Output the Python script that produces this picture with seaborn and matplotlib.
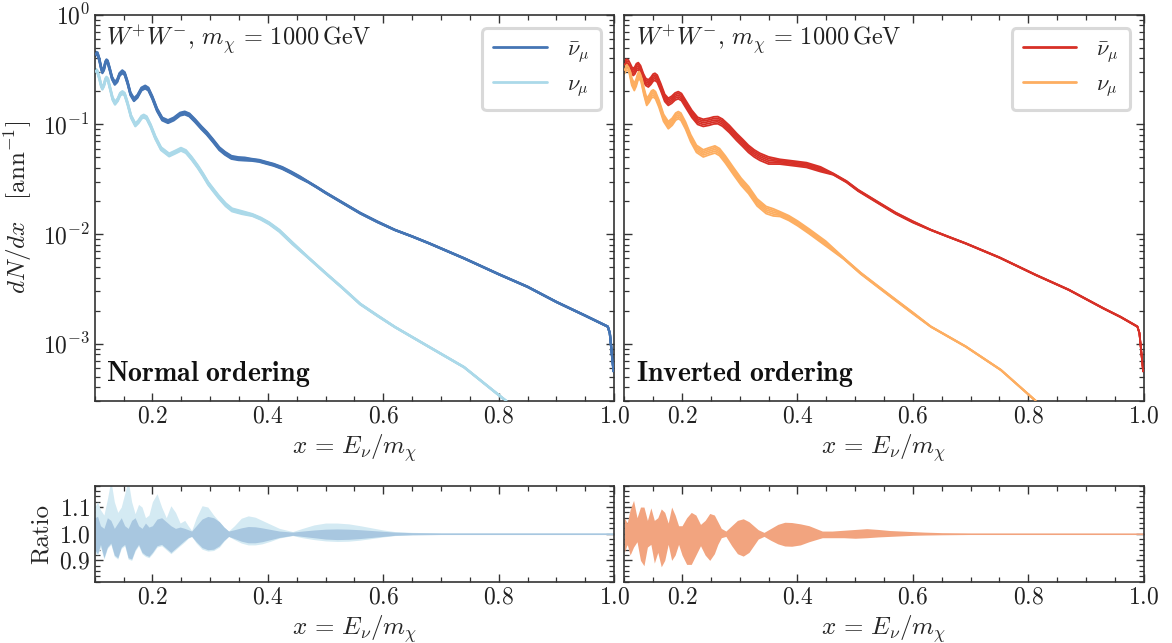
import numpy as np
import pandas as pd
import matplotlib
matplotlib.use("Agg")
import matplotlib.pyplot as plt
from matplotlib.ticker import MultipleLocator, LogLocator, NullFormatter, FixedLocator
import seaborn as sns

# ---------------- data ----------------
# Normal ordering, anti-neutrino (nubar_mu)
x_nb_no = [0.100, 0.1025, 0.105, 0.108, 0.111, 0.1133, 0.116, 0.1185, 0.1204, 0.1225, 0.126, 0.130,
           0.1348, 0.139, 0.143, 0.1478, 0.152, 0.157, 0.162, 0.168, 0.174, 0.181, 0.1875, 0.193,
           0.200, 0.208, 0.217, 0.227, 0.237, 0.248, 0.256, 0.264, 0.274, 0.285, 0.2943, 0.305,
           0.316, 0.3257, 0.337, 0.349, 0.360, 0.372, 0.385, 0.396, 0.410, 0.425, 0.440, 0.455,
           0.470, 0.485, 0.500, 0.530, 0.560, 0.590, 0.620, 0.650, 0.680, 0.740, 0.800, 0.850,
           0.900, 0.950, 0.989, 0.9925, 0.999]
y_nb_no = [0.43, 0.445, 0.44, 0.39, 0.33, 0.302, 0.32, 0.365, 0.38, 0.372, 0.32, 0.265,
           0.237, 0.25, 0.285, 0.302, 0.29, 0.24, 0.19, 0.168, 0.18, 0.21, 0.219, 0.21,
           0.175, 0.136, 0.112, 0.106, 0.112, 0.124, 0.127, 0.122, 0.108, 0.093, 0.083, 0.071,
           0.060, 0.0545, 0.050, 0.0487, 0.0483, 0.0475, 0.0465, 0.0448, 0.0428, 0.0400, 0.0365, 0.0330,
           0.0298, 0.0267, 0.0238, 0.0192, 0.0155, 0.0129, 0.0109, 0.0095, 0.0082, 0.0060, 0.0043, 0.0033,
           0.0024, 0.0018, 0.00143, 0.00125, 0.00056]

# Normal ordering, neutrino (nu_mu)
x_nu_no = [0.100, 0.1025, 0.105, 0.108, 0.111, 0.1133, 0.116, 0.1185, 0.1204, 0.123, 0.127, 0.131,
           0.1352, 0.140, 0.144, 0.148, 0.152, 0.157, 0.163, 0.1704, 0.176, 0.181, 0.185, 0.190,
           0.197, 0.205, 0.215, 0.229, 0.240, 0.2495, 0.258, 0.268, 0.2788, 0.288, 0.2966, 0.306,
           0.3146, 0.327, 0.338, 0.355, 0.3732, 0.388, 0.4025, 0.420, 0.443, 0.470, 0.500, 0.530,
           0.560, 0.590, 0.620, 0.680, 0.740, 0.800, 0.850]
y_nu_no = [0.30, 0.31, 0.30, 0.265, 0.228, 0.214, 0.228, 0.255, 0.264, 0.255, 0.21, 0.172,
           0.156, 0.168, 0.188, 0.195, 0.188, 0.155, 0.118, 0.099, 0.106, 0.116, 0.119, 0.115,
           0.097, 0.076, 0.060, 0.0526, 0.056, 0.0593, 0.0565, 0.049, 0.041, 0.0345, 0.029, 0.025,
           0.0219, 0.0185, 0.0166, 0.0157, 0.0149, 0.0138, 0.0125, 0.0107, 0.0082, 0.0061, 0.0044, 0.0032,
           0.0023, 0.0018, 0.00142, 0.00093, 0.00061, 0.00034, 0.00021]

# Inverted ordering, anti-neutrino
x_nb_io = [0.100, 0.1035, 0.1069, 0.110, 0.113, 0.1156, 0.118, 0.121, 0.1242, 0.128, 0.133, 0.137,
           0.1416, 0.146, 0.150, 0.1531, 0.157, 0.163, 0.170, 0.1762, 0.182, 0.188, 0.1935, 0.199,
           0.207, 0.217, 0.227, 0.2368, 0.247, 0.255, 0.262, 0.270, 0.282, 0.2946, 0.305, 0.315,
           0.325, 0.335, 0.350, 0.3695, 0.395, 0.4158, 0.440, 0.462, 0.485, 0.505, 0.540, 0.570,
           0.600, 0.631, 0.660, 0.6917, 0.750, 0.813, 0.870, 0.930, 0.960, 0.989, 0.9925, 0.999]
y_nb_io = [0.35, 0.365, 0.36, 0.335, 0.31, 0.302, 0.31, 0.333, 0.34, 0.32, 0.27, 0.245,
           0.237, 0.25, 0.268, 0.272, 0.262, 0.22, 0.175, 0.161, 0.168, 0.18, 0.185, 0.178,
           0.152, 0.125, 0.108, 0.1035, 0.106, 0.109, 0.1095, 0.104, 0.091, 0.077, 0.068, 0.060,
           0.0545, 0.0507, 0.047, 0.0457, 0.044, 0.0426, 0.039, 0.0352, 0.030, 0.0250, 0.0193, 0.0155,
           0.0129, 0.0109, 0.0095, 0.0082, 0.0061, 0.00423, 0.0031, 0.0021, 0.00175, 0.00143, 0.00125, 0.00056]

# Inverted ordering, neutrino
x_nu_io = [0.100, 0.1035, 0.1069, 0.109, 0.113, 0.1173, 0.1205, 0.1235, 0.1259, 0.129, 0.134, 0.1388,
           0.143, 0.147, 0.1502, 0.154, 0.160, 0.168, 0.1762, 0.183, 0.189, 0.1935, 0.198, 0.206,
           0.215, 0.225, 0.2368, 0.247, 0.257, 0.265, 0.275, 0.290, 0.3025, 0.3154, 0.330, 0.3457,
           0.358, 0.370, 0.385, 0.4004, 0.420, 0.449, 0.480, 0.5096, 0.540, 0.570, 0.600, 0.631,
           0.6917, 0.7525, 0.813, 0.850]
y_nu_io = [0.313, 0.335, 0.336, 0.31, 0.245, 0.22, 0.24, 0.272, 0.282, 0.265, 0.20, 0.161,
           0.172, 0.188, 0.192, 0.185, 0.155, 0.115, 0.0986, 0.106, 0.118, 0.1217, 0.118, 0.098,
           0.075, 0.060, 0.0545, 0.057, 0.0592, 0.056, 0.048, 0.037, 0.030, 0.0252, 0.0195, 0.0166,
           0.0158, 0.0152, 0.0140, 0.0125, 0.0106, 0.0082, 0.0060, 0.00438, 0.0033, 0.0025, 0.0019, 0.00143,
           0.00094, 0.000575, 0.0003, 0.00021]

# relative half-width of the bundle of curves in the upper panels, by x range
spread_edges = [0.36, 0.46, 0.60]
spread_no = [0.03, 0.02, 0.008, 0.004]
spread_io = [0.075, 0.05, 0.015, 0.006]

# Ratio panels (upper / lower envelope of the variation bands)
x_ratio = [0.100, 0.105, 0.110, 0.116, 0.122, 0.128, 0.134, 0.140, 0.146, 0.152, 0.158, 0.164,
           0.170, 0.176, 0.182, 0.188, 0.194, 0.200, 0.208, 0.216, 0.224, 0.232, 0.240, 0.248,
           0.256, 0.262, 0.268, 0.276, 0.286, 0.296, 0.306, 0.316, 0.324, 0.332, 0.342, 0.354,
           0.366, 0.378, 0.390, 0.405, 0.420, 0.443, 0.460, 0.480, 0.500, 0.520, 0.540, 0.560,
           0.580, 0.600, 0.620, 0.650, 0.700, 0.800, 0.900, 1.000]
hi_nb_no = [1.06, 1.065, 1.03, 1.02, 1.06, 1.05, 1.02, 1.04, 1.06, 1.03, 1.02, 1.05,
            1.06, 1.03, 1.02, 1.04, 1.025, 1.03, 1.055, 1.06, 1.045, 1.03, 1.02, 1.025,
            1.02, 1.015, 1.01, 1.03, 1.055, 1.065, 1.06, 1.045, 1.025, 1.01, 1.015, 1.022,
            1.027, 1.026, 1.022, 1.016, 1.01, 1.006, 1.01, 1.014, 1.017, 1.018, 1.017, 1.015,
            1.012, 1.009, 1.006, 1.004, 1.003, 1.003, 1.003, 1.003]
lo_nb_no = [0.94, 0.925, 0.96, 0.91, 0.95, 0.965, 0.92, 0.91, 0.95, 0.96, 0.91, 0.905,
            0.94, 0.96, 0.93, 0.92, 0.915, 0.93, 0.955, 0.96, 0.945, 0.93, 0.945, 0.96,
            0.975, 0.985, 0.99, 0.97, 0.948, 0.94, 0.942, 0.955, 0.975, 0.99, 0.982, 0.972,
            0.966, 0.966, 0.97, 0.978, 0.986, 0.994, 0.99, 0.985, 0.98, 0.978, 0.979, 0.982,
            0.986, 0.99, 0.994, 0.996, 0.997, 0.997, 0.997, 0.997]
hi_nu_no = [1.10, 1.12, 1.09, 1.07, 1.13, 1.20, 1.12, 1.08, 1.10, 1.15, 1.20, 1.12,
            1.075, 1.11, 1.10, 1.06, 1.07, 1.12, 1.15, 1.10, 1.06, 1.105, 1.08, 1.04,
            1.05, 1.03, 1.012, 1.06, 1.105, 1.10, 1.07, 1.045, 1.025, 1.01, 1.03, 1.058,
            1.067, 1.062, 1.05, 1.035, 1.02, 1.008, 1.02, 1.033, 1.04, 1.04, 1.037, 1.03,
            1.022, 1.014, 1.008, 1.005, 1.003, 1.003, 1.003, 1.003]
lo_nu_no = [0.93, 0.92, 0.95, 0.905, 0.945, 0.96, 0.915, 0.905, 0.945, 0.955, 0.905, 0.90,
            0.935, 0.955, 0.925, 0.915, 0.91, 0.925, 0.95, 0.955, 0.94, 0.925, 0.94, 0.955,
            0.97, 0.983, 0.99, 0.965, 0.942, 0.935, 0.937, 0.95, 0.972, 0.99, 0.978, 0.965,
            0.958, 0.958, 0.962, 0.972, 0.984, 0.993, 0.985, 0.978, 0.973, 0.971, 0.972, 0.976,
            0.982, 0.988, 0.993, 0.996, 0.997, 0.997, 0.997, 0.997]
hi_io = [1.06, 1.04, 1.09, 1.125, 1.06, 1.10, 1.10, 1.05, 1.097, 1.05, 1.06, 1.093,
         1.08, 1.04, 1.10, 1.07, 1.03, 1.03, 1.06, 1.08, 1.07, 1.035, 1.05, 1.076,
         1.07, 1.045, 1.02, 1.01, 1.03, 1.05, 1.056, 1.045, 1.03, 1.015, 1.005, 1.02,
         1.035, 1.043, 1.042, 1.037, 1.03, 1.01, 1.01, 1.013, 1.016, 1.019, 1.016, 1.012,
         1.01, 1.008, 1.006, 1.004, 1.003, 1.003, 1.003, 1.003]
lo_io = [0.93, 0.96, 0.92, 0.95, 0.97, 0.90, 0.88, 0.95, 0.96, 0.89, 0.93, 0.876,
         0.90, 0.96, 0.90, 0.92, 0.96, 0.92, 0.885, 0.885, 0.92, 0.955, 0.92, 0.90,
         0.925, 0.96, 0.985, 0.99, 0.955, 0.925, 0.916, 0.93, 0.955, 0.98, 0.99, 0.975,
         0.962, 0.954, 0.953, 0.958, 0.97, 0.985, 0.985, 0.985, 0.983, 0.985, 0.988, 0.99,
         0.992, 0.994, 0.995, 0.996, 0.997, 0.997, 0.997, 0.997]

x_ticks = [0.2, 0.4, 0.6, 0.8, 1.0]
ratio_ticks = [0.9, 1.0, 1.1]

# ---------------- style ----------------
sns.set_theme(style="ticks")
plt.rcParams.update({
    "font.family": ["serif"],
    "font.serif": ["cmr10", "DejaVu Serif"],
    "mathtext.fontset": "cm",
    "axes.formatter.use_mathtext": True,
    "axes.unicode_minus": False,
    "axes.edgecolor": "#333333",
    "axes.linewidth": 1.2,
    "xtick.direction": "in",
    "ytick.direction": "in",
    "xtick.top": True,
    "ytick.right": True,
    "xtick.major.size": 6,
    "ytick.major.size": 6,
    "xtick.minor.size": 3.5,
    "ytick.minor.size": 3.5,
    "xtick.major.width": 1.0,
    "ytick.major.width": 1.0,
    "xtick.minor.width": 0.9,
    "ytick.minor.width": 0.9,
    "xtick.color": "#333333",
    "ytick.color": "#333333",
    "xtick.labelcolor": "#222222",
    "ytick.labelcolor": "#222222",
    "xtick.labelsize": 17,
    "ytick.labelsize": 17,
})

C_NB_NO, C_NU_NO = "#4575b4", "#abd9e9"
C_NB_IO, C_NU_IO = "#d73027", "#fdae61"
FILL_NU_NO, FILL_NB_NO, FILL_IO = "#d4eaf3", "#a8c7e0", "#f2a47f"

fig = plt.figure(figsize=(11.72, 6.43), dpi=100)
W = 0.4432
ax_tl = fig.add_axes([0.0808, 0.3764, W, 0.6007])
ax_tr = fig.add_axes([0.5327, 0.3764, W, 0.6007])
ax_bl = fig.add_axes([0.0808, 0.0953, W, 0.1493])
ax_br = fig.add_axes([0.5327, 0.0953, W, 0.1493])

XLAB = r"$x \,=\, E_\nu/m_\chi$"


def band(ax, x, y, spread_vals, color, lw, label):
    x = np.asarray(x)
    y = np.asarray(y)
    s = np.asarray(spread_vals)[np.searchsorted(spread_edges, x)]
    for f in (-1.0, -0.5, 0.5, 1.0):
        ax.plot(x, y * (1 + f * s), color=color, lw=lw, zorder=2)
    df = pd.DataFrame({"x": x, "y": y})
    sns.lineplot(data=df, x="x", y="y", ax=ax, color=color, lw=lw, label=label,
                 sort=False, estimator=None, zorder=3)


band(ax_tl, x_nb_no, y_nb_no, spread_no, C_NB_NO, 1.6, r"$\bar{\nu}_\mu$")
band(ax_tl, x_nu_no, y_nu_no, spread_no, C_NU_NO, 1.6, r"$\nu_\mu$")
band(ax_tr, x_nb_io, y_nb_io, spread_io, C_NB_IO, 1.3, r"$\bar{\nu}_\mu$")
band(ax_tr, x_nu_io, y_nu_io, spread_io, C_NU_IO, 1.3, r"$\nu_\mu$")

for ax, order in ((ax_tl, "Normal ordering"), (ax_tr, "Inverted ordering")):
    ax.set_yscale("log")
    ax.set_xlim(0.1, 1.0)
    ax.set_ylim(3e-4, 1.0)
    ax.xaxis.set_major_locator(FixedLocator(x_ticks))
    ax.xaxis.set_minor_locator(MultipleLocator(0.05))
    ax.yaxis.set_major_locator(LogLocator(base=10, numticks=10))
    ax.yaxis.set_minor_locator(LogLocator(base=10, subs=np.arange(2, 10), numticks=50))
    ax.yaxis.set_minor_formatter(NullFormatter())
    ax.tick_params(which="both", top=True, right=True)
    ax.set_xlabel(XLAB, fontsize=18, labelpad=3)
    ax.set_ylabel("")
    ax.text(0.022, 0.977, r"$W^{+}W^{-}$, $m_\chi \,=\, 1000\,\mathrm{GeV}$", transform=ax.transAxes,
            ha="left", va="top", fontsize=17.5, color="#222222")
    ax.text(0.022, 0.03, r"$\mathbf{" + order.replace(" ", r"\ ") + "}$", transform=ax.transAxes,
            ha="left", va="bottom", fontsize=20, color="#111111")
    leg = ax.legend(loc="upper right", fontsize=16, handlelength=2.4, handletextpad=0.9,
                    labelspacing=0.5, borderpad=0.5, borderaxespad=0.6, frameon=True, fancybox=True)
    leg.get_frame().set_edgecolor("#d0d0d0")
    leg.get_frame().set_linewidth(2.2)
    for h in leg.get_lines():
        h.set_linewidth(2.0)
    for sp in ax.spines.values():
        sp.set_visible(True)

ax_tl.set_ylabel(r"$dN/dx\quad[\mathrm{ann}^{-1}]$", fontsize=18, labelpad=6)
ax_tr.tick_params(labelleft=False)

# ratio panels
ax_bl.fill_between(x_ratio, lo_nu_no, hi_nu_no, color=FILL_NU_NO, lw=0, zorder=1)
ax_bl.fill_between(x_ratio, lo_nb_no, hi_nb_no, color=FILL_NB_NO, lw=0, zorder=2)
ax_br.fill_between(x_ratio, lo_io, hi_io, color=FILL_IO, lw=0, zorder=1)

for ax in (ax_bl, ax_br):
    ax.set_xlim(0.1, 1.0)
    ax.set_ylim(0.82, 1.18)
    ax.xaxis.set_major_locator(FixedLocator(x_ticks))
    ax.xaxis.set_minor_locator(MultipleLocator(0.05))
    ax.yaxis.set_major_locator(FixedLocator(ratio_ticks))
    ax.yaxis.set_minor_locator(MultipleLocator(0.02))
    ax.tick_params(which="both", top=True, right=True)
    ax.set_xlabel(XLAB, fontsize=18, labelpad=3)
    for sp in ax.spines.values():
        sp.set_visible(True)

ax_bl.set_ylabel("Ratio", fontsize=18, labelpad=4)
ax_br.tick_params(labelleft=False)

fig.savefig("out.png", dpi=100)
